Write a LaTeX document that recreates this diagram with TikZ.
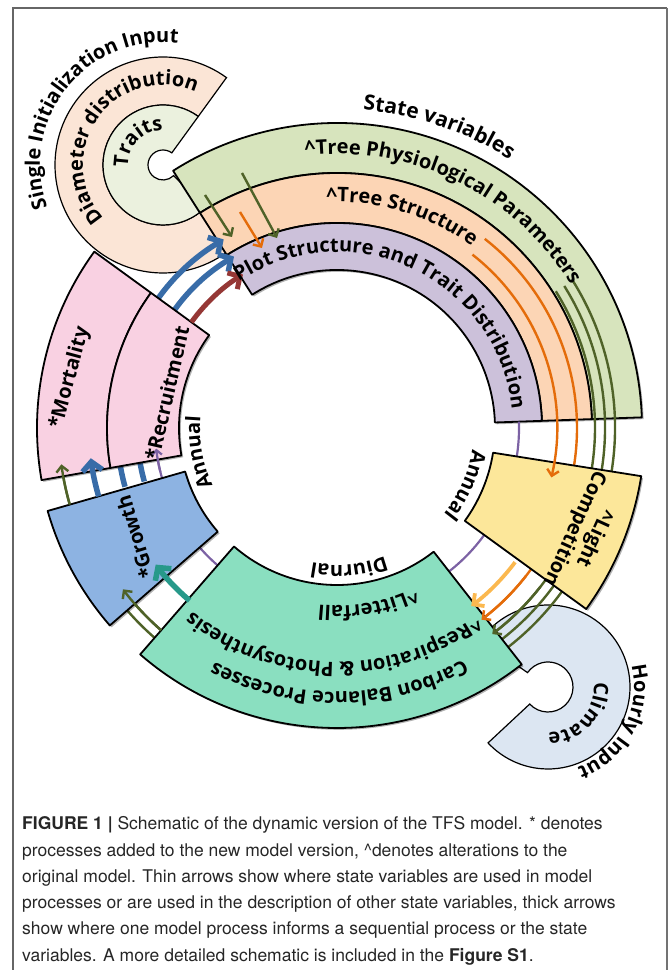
\documentclass[tikz,border=0pt]{standalone}
\usepackage{fontspec}
\setmainfont{TeX Gyre Heros}
\newfontfamily\lblfamily{Open Sans}
\usetikzlibrary{arrows.meta,decorations.text,shadows}
\definecolor{bandgreen}{HTML}{D7E4BD}
\definecolor{bandorange}{HTML}{FCD5B5}
\definecolor{bandpurple}{HTML}{CCC1DA}
\definecolor{diampeach}{HTML}{FBE5D6}
\definecolor{traitgreen}{HTML}{EBF1DE}
\definecolor{pinkbox}{HTML}{F9D1E2}
\definecolor{growthblue}{HTML}{8DB3E2}
\definecolor{lcyellow}{HTML}{FCE79A}
\definecolor{tealbox}{HTML}{8ADFC0}
\definecolor{climblue}{HTML}{DCE6F2}
\definecolor{agreen}{HTML}{4F6228}
\definecolor{aorange}{HTML}{E46C0A}
\definecolor{ablue}{HTML}{386CA8}
\definecolor{ared}{HTML}{953735}
\definecolor{apurple}{HTML}{7C62A4}
\definecolor{ateal}{HTML}{27998A}
\definecolor{agold}{HTML}{FBB84F}
\newcommand{\lblf}{\lblfamily\bfseries\fontsize{20}{22}\selectfont}
\newcommand{\lblfb}{\lblfamily\bfseries\fontsize{21}{24}\selectfont}
\newcommand{\capfont}{\fontsize{17.5}{26}\selectfont}
\newcommand{\annsec}[6]{\path[#1] ([shift={(#3:#5pt)}]#2) arc[start angle=#3,end angle=#4,radius=#5pt] -- ([shift={(#4:#6pt)}]#2) arc[start angle=#4,end angle=#3,radius=#6pt] -- cycle;}
\newcommand{\ringarc}[5]{\draw[#1] ([shift={(#3:#5pt)}]#2) arc[start angle=#3,end angle=#4,radius=#5pt];}
\newcommand{\arctext}[6]{\path[decorate,decoration={text along path,text align=center,text={|#1|#6}}] ([shift={(#3:#5pt)}]#2) arc[start angle=#3,end angle=#4,radius=#5pt];}
\begin{document}
\begin{tikzpicture}[x=1pt,y=1pt,
  outl/.style={draw=black,line width=1.8pt,line join=round},
  thinol/.style={draw=black,line width=1.2pt},
  boxsh/.style={drop shadow={shadow xshift=1.8pt,shadow yshift=-1.8pt,opacity=0.3,fill=black}},
  thinarr/.style={line width=2.4pt,-{Straight Barb[length=6pt,width=12pt]}},
  thinline/.style={line width=2.4pt},
  thickarr/.style={line width=5.5pt,-{Straight Barb[length=9pt,width=20pt]}},
  thickline/.style={line width=5.5pt},
  proc/.style={font=\lblf,inner sep=0pt},
  capt/.style={font=\capfont,anchor=base west,inner sep=0pt,text=black!85}]
\useasboundingbox (0,0) rectangle (669,970);
\coordinate (C0) at (337,542);
\coordinate (C1) at (163,805);
\coordinate (C2) at (548,283);
% frame
\draw[black!60,line width=1.4pt] (13,0) -- (13,962) -- (667,962);
\draw[black!55,line width=2.6pt] (667,962) -- (667,0);
% single initialization input
\annsec{fill=diampeach,thinol}{C1}{54}{315}{60}{108}
\annsec{fill=traitgreen,thinol}{C1}{54}{315}{15}{60}
% climate
\annsec{fill=climblue,thinol}{C2}{-137}{145}{25}{82}
% state variable bands
\annsec{fill=bandgreen,boxsh}{C0}{122.5}{2}{158}{305}
\annsec{fill=bandgreen,outl}{C0}{122.5}{2}{255}{305}
\annsec{fill=bandorange,outl}{C0}{122.5}{2}{205}{255}
\annsec{fill=bandpurple,outl}{C0}{122.5}{2}{158}{205}
% connectors passing behind the process boxes
\ringarc{apurple,line width=2.2pt}{C0}{2}{-173.5}{182}
\ringarc{aorange,thinline}{C0}{52}{-53}{240}
\ringarc{agreen,thinline}{C0}{32}{-53}{258}
\ringarc{agreen,thinline}{C0}{32}{-143}{268}
\ringarc{agreen,thinline}{C0}{32}{-172.5}{278}
\ringarc{ablue,thickarr}{C0}{195.5}{121}{220}
\ringarc{ablue,thickarr}{C0}{195.5}{121}{200}
% process boxes
\annsec{fill=pinkbox,boxsh}{C0}{144}{190}{158}{300}
\annsec{fill=pinkbox,outl}{C0}{144}{190}{230}{300}
\annsec{fill=pinkbox,outl}{C0}{144}{190}{158}{230}
\annsec{fill=growthblue,outl,boxsh}{C0}{196}{221}{158}{301}
\annsec{fill=tealbox,outl,boxsh}{C0}{229}{308}{157}{300}
\annsec{fill=lcyellow,outl,boxsh}{C0}{-36}{-9}{158}{308}
% visible arrow ends
\ringarc{apurple,line width=2.2pt,-{Straight Barb[length=5pt,width=10pt]}}{C0}{-166}{-173.5}{182}
\ringarc{aorange,thinarr}{C0}{-38}{-53}{240}
\ringarc{agreen,thinarr}{C0}{-38}{-53}{258}
\ringarc{agreen,thinarr}{C0}{-131}{-143}{268}
\ringarc{agreen,thinarr}{C0}{-164}{-172.5}{278}
\ringarc{aorange,thinarr}{C0}{52}{-13}{220}
\ringarc{agold,line width=3.8pt,-{Straight Barb[length=8pt,width=16pt]}}{C0}{-37}{-53}{223}
\ringarc{ateal,thickarr}{C0}{-130.5}{-143}{227}
\ringarc{ablue,thickarr}{C0}{-164}{-173}{248}
\ringarc{ared,line width=5pt,-{Straight Barb[length=9pt,width=19pt]}}{C0}{144}{121.5}{180}
% straight thin arrows
\coordinate (ga1) at (205,775); \coordinate (ga2) at (232,733);
\coordinate (gb1) at (242,797); \coordinate (gb2) at (277,732);
\coordinate (oa1) at (240,758); \coordinate (oa2) at (262,722);
\draw[agreen,thinarr] (ga1) -- (ga2);
\draw[agreen,thinarr] (gb1) -- (gb2);
\draw[aorange,thinarr] (oa1) -- (oa2);
% curved labels
\arctext{\lblfb}{C0}{111.3}{31.3}{319}{State variables}
\arctext{\lblf}{C0}{124}{4}{274}{{\textasciicircum}Tree Physiological Parameters}
\arctext{\lblf}{C0}{123}{23}{226}{{\textasciicircum}Tree Structure}
\arctext{\lblf}{C0}{140}{-10}{176}{Plot Structure and Trait Distribution}
\arctext{\lblf}{C0}{230}{150}{137}{Annual}
\arctext{\lblf}{C0}{16}{-64}{137}{Annual}
\arctext{\lblf}{C0}{-45}{-125}{137}{Diurnal}
\arctext{\lblf}{C0}{-40}{-120}{178}{{\textasciicircum}Litterfall}
\arctext{\lblf}{C0}{-31}{-151}{234}{{\textasciicircum}Respiration {\&} Photosynthesis}
\arctext{\lblf}{C0}{-29.5}{-149.5}{264}{Carbon Balance Processes}
\arctext{\lblf}{C1}{231.5}{51.5}{123}{Single Initialization Input}
\arctext{\lblf}{C1}{244}{44}{80}{Diameter distribution}
\arctext{\lblf}{C1}{237}{37}{35}{Traits}
\arctext{\lblf}{C2}{48}{-132}{46}{Climate}
\arctext{\lblf}{C2}{52}{-108}{86}{Hourly Input}
% straight labels
\node[proc,rotate=75] (mort) at (70,592) {*Mortality};
\node[proc,rotate=77] (recr) at (167,577) {*Recruitment};
\node[proc,rotate=107] (grow) at (135,433) {*Growth};
\node[proc,rotate=-114.5,align=center] (lc) at (584,437) {\textasciicircum Light\\Competition};
% caption
\node[capt] (cap1) at (22,140) {\textbf{FIGURE 1 |} Schematic of the dynamic version of the TFS model. * denotes};
\node[capt] (cap2) at (22,113) {processes added to the new model version, \textasciicircum denotes alterations to the};
\node[capt] (cap3) at (22,87) {original model. Thin arrows show where state variables are used in model};
\node[capt] (cap4) at (22,61) {processes or are used in the description of other state variables, thick arrows};
\node[capt] (cap5) at (22,35) {show where one model process informs a sequential process or the state};
\node[capt] (cap6) at (22,9) {variables. A more detailed schematic is included in the \textbf{Figure S1}.};
\end{tikzpicture}
\end{document}
